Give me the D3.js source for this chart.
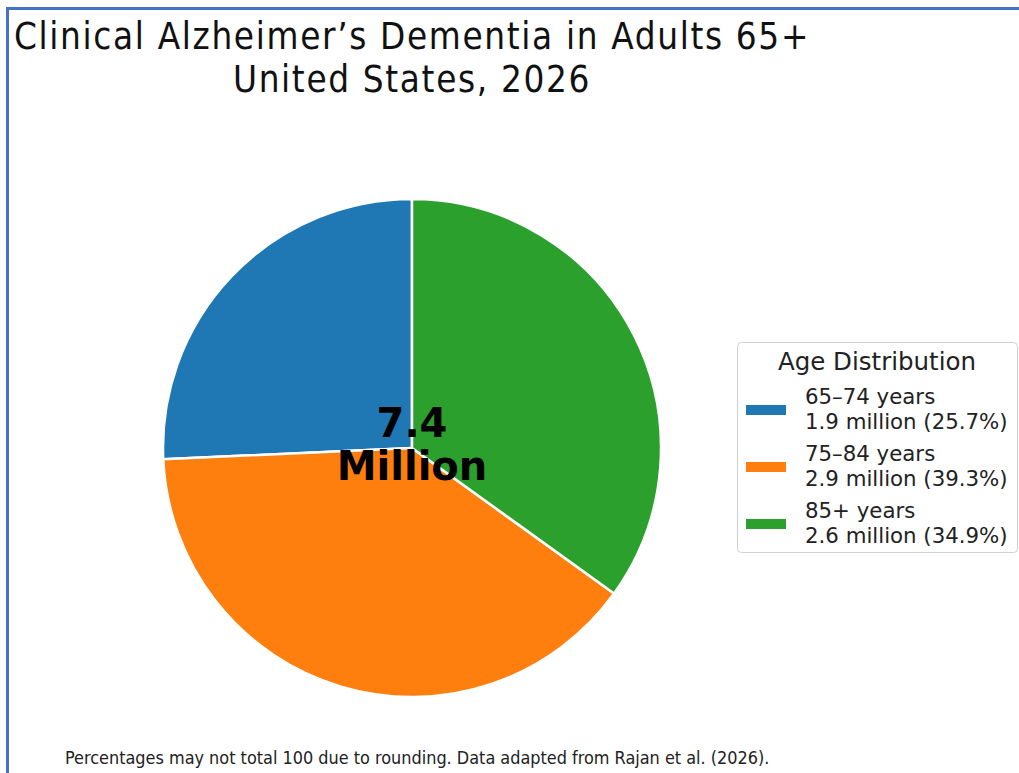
<!DOCTYPE html>
<html><head><meta charset="utf-8">
<script src="https://cdn.jsdelivr.net/npm/d3@7"></script>
<style>
html,body{margin:0;padding:0;background:#fff;}
svg{display:block;}
</style></head>
<body>
<script>
const categories = ["65–74 years", "75–84 years", "85+ years"];
const millions = [1.9, 2.9, 2.6];
const percents = [25.7, 39.3, 34.9];
const colors = ["#1f77b4", "#ff7f0e", "#2ca02c"];
const totalLabel = ["7.4", "Million"];
const titleLines = ["Clinical Alzheimer’s Dementia in Adults 65+", "United States, 2026"];
const legendTitle = "Age Distribution";
const footnote = "Percentages may not total 100 due to rounding. Data adapted from Rajan et al. (2026).";

const W = 1019, H = 773;
const svg = d3.select("body").append("svg").attr("width", W).attr("height", H);

// frame
svg.append("line").attr("x1", 7.5).attr("x2", W).attr("y1", 8.5).attr("y2", 8.5)
  .attr("stroke", "#4472c4").attr("stroke-width", 3);
svg.append("line").attr("x1", 7.5).attr("x2", 7.5).attr("y1", 7).attr("y2", H)
  .attr("stroke", "#4472c4").attr("stroke-width", 3);

const cx = 412, cy = 448, R = 249;

svg.selectAll("text.title").data(titleLines).join("text").attr("class", "title")
  .attr("text-anchor", "middle")
  .attr("font-family", "DejaVu Sans Condensed, DejaVu Sans").attr("font-stretch", "condensed")
  .attr("font-size", 36.5).attr("letter-spacing", 1.65).attr("fill", "#111")
  .attr("x", cx).attr("y", (d, i) => 49 + i * 43).text(d => d);

const pie = d3.pie().sort(null).startAngle(0).endAngle(-2 * Math.PI);
const arcs = pie(percents);
const arc = d3.arc().innerRadius(0).outerRadius(R);
const g = svg.append("g").attr("transform", `translate(${cx},${cy})`);
g.selectAll("path").data(arcs).join("path")
  .attr("d", arc).attr("fill", (d, i) => colors[i])
  .attr("stroke", "#fff").attr("stroke-width", 2.5).attr("stroke-linejoin", "round");

g.selectAll("text.total").data(totalLabel).join("text").attr("class", "total")
  .attr("text-anchor", "middle").attr("x", 0).attr("y", (d, i) => -11 + i * 43)
  .attr("font-family", "DejaVu Sans").attr("font-weight", "bold").attr("font-size", 40)
  .attr("fill", "#000").text(d => d);

// legend
const lx = 737, ly = 342, lw = 280, lh = 210;
const lg = svg.append("g");
lg.append("rect").attr("x", lx + 0.5).attr("y", ly + 0.5).attr("width", lw).attr("height", lh)
  .attr("rx", 4).attr("fill", "#fff").attr("stroke", "#d0d0d0").attr("stroke-width", 1);
lg.append("text").attr("x", 877).attr("y", 370).attr("text-anchor", "middle")
  .attr("font-family", "DejaVu Sans").attr("font-size", 24.5).attr("fill", "#222").text(legendTitle);
const items = lg.selectAll("g.item").data(categories).join("g").attr("class", "item")
  .attr("transform", (d, i) => `translate(0,${i * 57})`);
items.append("rect").attr("x", 746).attr("y", 405).attr("width", 40).attr("height", 10)
  .attr("fill", (d, i) => colors[i]);
items.append("text").attr("x", 805).attr("y", 404)
  .attr("font-family", "DejaVu Sans").attr("font-size", 21.3).attr("fill", "#222").text(d => d);
items.append("text").attr("x", 805).attr("y", 429)
  .attr("font-family", "DejaVu Sans").attr("font-size", 21.3).attr("fill", "#222")
  .text((d, i) => `${millions[i].toFixed(1)} million (${percents[i].toFixed(1)}%)`);

svg.append("text").attr("x", 65).attr("y", 764)
  .attr("font-family", "DejaVu Sans Condensed, DejaVu Sans").attr("font-stretch", "condensed")
  .attr("font-size", 17.9).attr("fill", "#222").text(footnote);
</script>
</body></html>
